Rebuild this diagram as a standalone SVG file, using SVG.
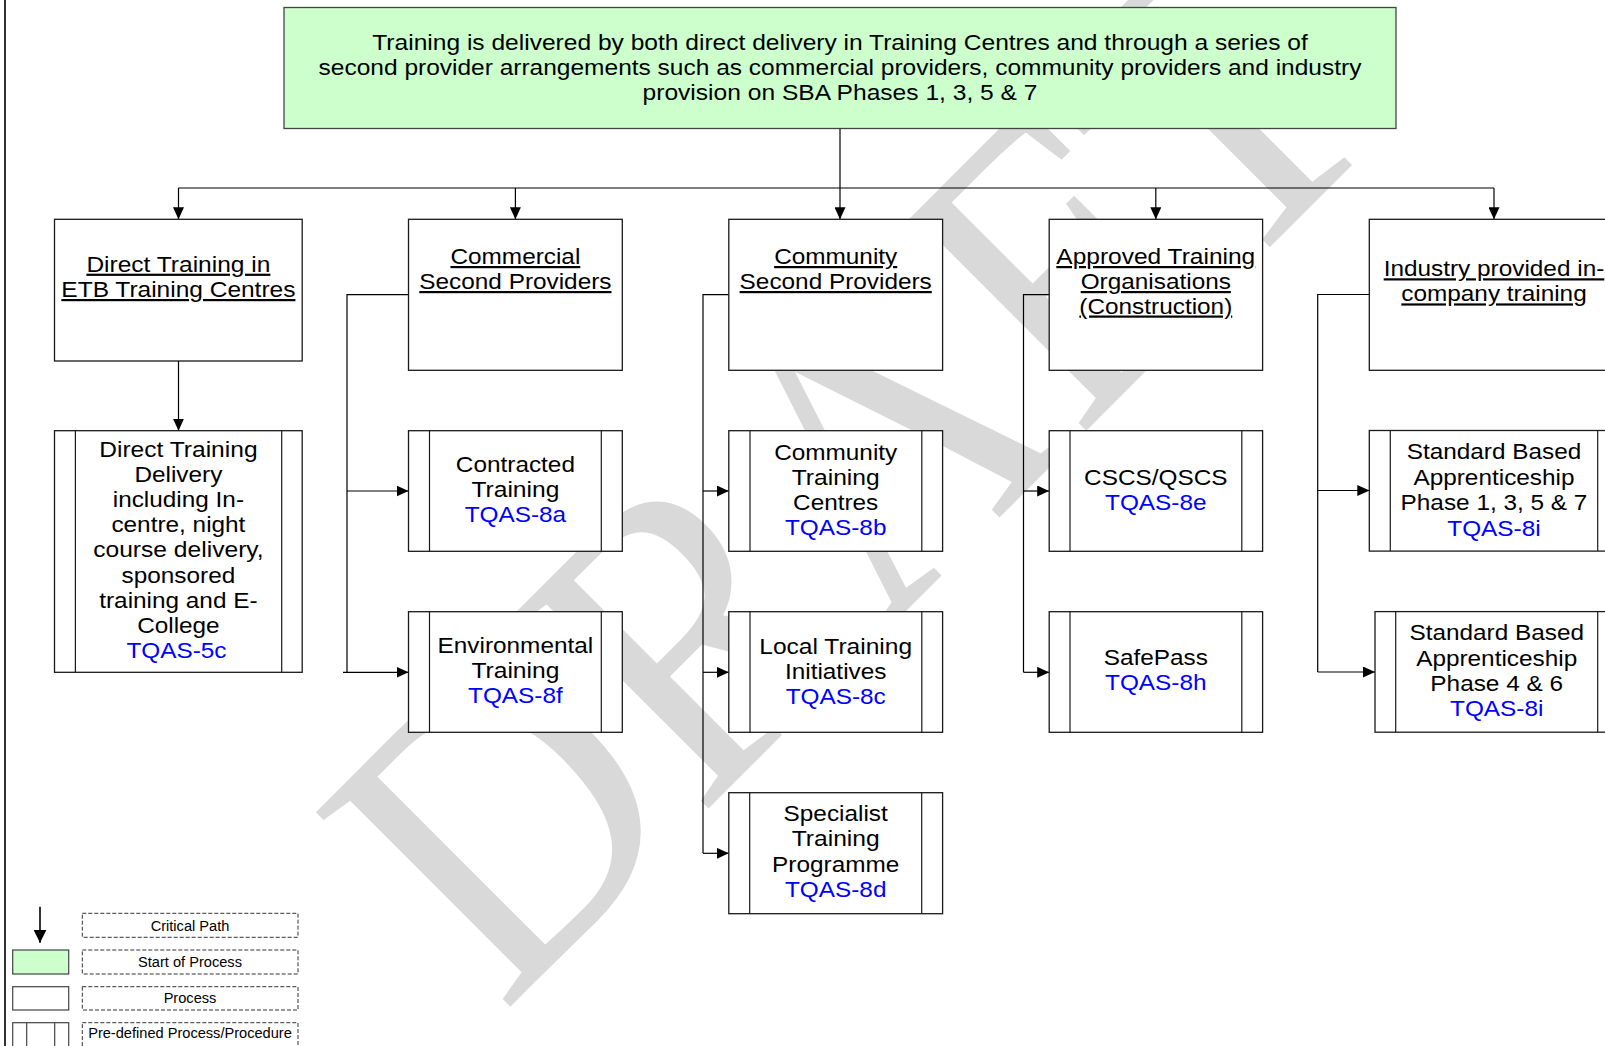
<svg xmlns="http://www.w3.org/2000/svg" width="1605" height="1046" viewBox="0 0 1605 1046">
<style>
.t{font-family:"Liberation Sans",Arial,sans-serif;font-size:22px;text-anchor:middle;fill:#000}
.u{text-decoration:underline}
.bl{fill:#0000ff}
.box{fill:#fff;stroke:#1a1a1a;stroke-width:1.3}
.in{stroke:#1a1a1a;stroke-width:1.2}
.c{fill:none;stroke:#000;stroke-width:1.2}
.lg{font-size:14px}
.dash{fill:none;stroke:#333;stroke-width:1;stroke-dasharray:4 2}
.wm{font-family:"Liberation Serif","Times New Roman",serif;font-size:420px;fill:#d9d9d9}
</style>
<defs>
<marker id="ah" markerWidth="12" markerHeight="11" refX="12" refY="5.5" orient="auto" markerUnits="userSpaceOnUse"><path d="M0,0L12,5.5L0,11z" fill="#000"/></marker>
<marker id="ahL" markerWidth="13" markerHeight="13" refX="13" refY="6.5" orient="auto" markerUnits="userSpaceOnUse"><path d="M0,0L13,6.5L0,13z" fill="#000"/></marker>
</defs>
<rect width="1605" height="1046" fill="#fff"/>
<g id="watermark"><text class="wm" transform="translate(502.5,1014.5) rotate(-45)" x="0" y="0" textLength="1261" lengthAdjust="spacingAndGlyphs">DRAFT</text></g>
<line x1="5" y1="0" x2="5" y2="1046" stroke="#333" stroke-width="2"/>
<g id="connectors" class="c">
<path d="M840,128V188"/>
<path d="M178.5,188H1494"/>
<path d="M178.5,188V219.3" marker-end="url(#ah)"/>
<path d="M515.4,188V219.3" marker-end="url(#ah)"/>
<path d="M840,188V219.3" marker-end="url(#ah)"/>
<path d="M1155.8,188V219.3" marker-end="url(#ah)"/>
<path d="M1494,188V219.3" marker-end="url(#ah)"/>
<path d="M178.5,361V430.7" marker-end="url(#ah)"/>
<path d="M408.5,294.7H347V672.3"/>
<path d="M347,491H408.5" marker-end="url(#ah)"/>
<path d="M343,672.3H408.5" marker-end="url(#ah)"/>
<path d="M728.8,294.7H703V853.3"/>
<path d="M703,491H728.8" marker-end="url(#ah)"/>
<path d="M703,672.3H728.8" marker-end="url(#ah)"/>
<path d="M703,853.3H728.8" marker-end="url(#ah)"/>
<path d="M1049.2,294.7H1023.5V672.3"/>
<path d="M1023.5,491H1049.2" marker-end="url(#ah)"/>
<path d="M1023.5,672.3H1049.2" marker-end="url(#ah)"/>
<path d="M1369.3,294.5H1317.7V672"/>
<path d="M1317.7,490.5H1369.3" marker-end="url(#ah)"/>
<path d="M1317.7,672H1375" marker-end="url(#ah)"/>
</g>
<g id="start">
<rect x="284" y="7.5" width="1112" height="121" fill="#ccffcc" stroke="#444" stroke-width="1.3"/>
<text class="t" x="840" y="50" textLength="935.5" lengthAdjust="spacingAndGlyphs">Training is delivered by both direct delivery in Training Centres and through a series of</text>
<text class="t" x="840" y="75.2" textLength="1042.8" lengthAdjust="spacingAndGlyphs">second provider arrangements such as commercial providers, community providers and industry</text>
<text class="t" x="840" y="100.4" textLength="394.9" lengthAdjust="spacingAndGlyphs">provision on SBA Phases 1, 3, 5 &amp; 7</text>
</g>
<g id="direct-etb">
<rect class="box" x="54.5" y="219.3" width="247.7" height="141.7"/>
<text class="t u" x="178.4" y="271.7" textLength="184" lengthAdjust="spacingAndGlyphs">Direct Training in</text>
<text class="t u" x="178.4" y="297" textLength="234.1" lengthAdjust="spacingAndGlyphs">ETB Training Centres</text>
</g>
<g id="commercial">
<rect class="box" x="408.5" y="219.3" width="213.8" height="151"/>
<text class="t u" x="515.4" y="264" textLength="129.9" lengthAdjust="spacingAndGlyphs">Commercial</text>
<text class="t u" x="515.4" y="289" textLength="192.2" lengthAdjust="spacingAndGlyphs">Second Providers</text>
</g>
<g id="community">
<rect class="box" x="728.8" y="219.3" width="213.8" height="151"/>
<text class="t u" x="835.7" y="264" textLength="123.1" lengthAdjust="spacingAndGlyphs">Community</text>
<text class="t u" x="835.7" y="289" textLength="192.2" lengthAdjust="spacingAndGlyphs">Second Providers</text>
</g>
<g id="approved">
<rect class="box" x="1049.2" y="219.3" width="213.4" height="151"/>
<text class="t u" x="1155.8" y="264" textLength="198.9" lengthAdjust="spacingAndGlyphs">Approved Training</text>
<text class="t u" x="1155.8" y="289" textLength="150.2" lengthAdjust="spacingAndGlyphs">Organisations</text>
<text class="t u" x="1155.8" y="313.5" textLength="152.9" lengthAdjust="spacingAndGlyphs">(Construction)</text>
</g>
<g id="industry">
<rect class="box" x="1369.3" y="219.3" width="249" height="151"/>
<text class="t u" x="1494" y="276.3" textLength="220.6" lengthAdjust="spacingAndGlyphs">Industry provided in-</text>
<text class="t u" x="1494" y="301.4" textLength="185.4" lengthAdjust="spacingAndGlyphs">company training</text>
</g>
<g id="direct-delivery">
<rect class="box" x="54.5" y="430.7" width="247.7" height="241.6"/>
<line class="in" x1="75.4" y1="430.7" x2="75.4" y2="672.3"/><line class="in" x1="281.7" y1="430.7" x2="281.7" y2="672.3"/>
<text class="t" x="178.4" y="456.5" textLength="158.3" lengthAdjust="spacingAndGlyphs">Direct Training</text>
<text class="t" x="178.4" y="481.7" textLength="87.9" lengthAdjust="spacingAndGlyphs">Delivery</text>
<text class="t" x="178.4" y="506.9" textLength="131.3" lengthAdjust="spacingAndGlyphs">including In-</text>
<text class="t" x="178.4" y="532.1" textLength="134" lengthAdjust="spacingAndGlyphs">centre, night</text>
<text class="t" x="178.4" y="557.3" textLength="170.5" lengthAdjust="spacingAndGlyphs">course delivery,</text>
<text class="t" x="178.4" y="582.5" textLength="113.7" lengthAdjust="spacingAndGlyphs">sponsored</text>
<text class="t" x="178.4" y="607.7" textLength="158.3" lengthAdjust="spacingAndGlyphs">training and E-</text>
<text class="t" x="178.4" y="632.9" textLength="82.5" lengthAdjust="spacingAndGlyphs">College</text>
<text class="t bl" x="176.5" y="658.1" textLength="100.1" lengthAdjust="spacingAndGlyphs">TQAS-5c</text>
</g>
<g id="contracted">
<rect class="box" x="408.5" y="430.7" width="213.8" height="120.6"/>
<line class="in" x1="429.5" y1="430.7" x2="429.5" y2="551.3"/><line class="in" x1="601.3" y1="430.7" x2="601.3" y2="551.3"/>
<text class="t" x="515.4" y="472" textLength="119.1" lengthAdjust="spacingAndGlyphs">Contracted</text>
<text class="t" x="515.4" y="497" textLength="88" lengthAdjust="spacingAndGlyphs">Training</text>
<text class="t bl" x="515.4" y="522" textLength="101.5" lengthAdjust="spacingAndGlyphs">TQAS-8a</text>
</g>
<g id="environmental">
<rect class="box" x="408.5" y="611.7" width="213.8" height="120.6"/>
<line class="in" x1="429.5" y1="611.7" x2="429.5" y2="732.3"/><line class="in" x1="601.3" y1="611.7" x2="601.3" y2="732.3"/>
<text class="t" x="515.4" y="653" textLength="155.6" lengthAdjust="spacingAndGlyphs">Environmental</text>
<text class="t" x="515.4" y="678" textLength="88" lengthAdjust="spacingAndGlyphs">Training</text>
<text class="t bl" x="515.4" y="703" textLength="94.7" lengthAdjust="spacingAndGlyphs">TQAS-8f</text>
</g>
<g id="community-centres">
<rect class="box" x="728.8" y="430.7" width="213.8" height="120.6"/>
<line class="in" x1="750" y1="430.7" x2="750" y2="551.3"/><line class="in" x1="921.8" y1="430.7" x2="921.8" y2="551.3"/>
<text class="t" x="835.7" y="459.5" textLength="123.1" lengthAdjust="spacingAndGlyphs">Community</text>
<text class="t" x="835.7" y="484.8" textLength="88" lengthAdjust="spacingAndGlyphs">Training</text>
<text class="t" x="835.7" y="510.1" textLength="85.2" lengthAdjust="spacingAndGlyphs">Centres</text>
<text class="t bl" x="835.7" y="535.4" textLength="101.5" lengthAdjust="spacingAndGlyphs">TQAS-8b</text>
</g>
<g id="local">
<rect class="box" x="728.8" y="611.7" width="213.8" height="120.6"/>
<line class="in" x1="750" y1="611.7" x2="750" y2="732.3"/><line class="in" x1="921.8" y1="611.7" x2="921.8" y2="732.3"/>
<text class="t" x="835.7" y="653.5" textLength="152.9" lengthAdjust="spacingAndGlyphs">Local Training</text>
<text class="t" x="835.7" y="678.5" textLength="101.5" lengthAdjust="spacingAndGlyphs">Initiatives</text>
<text class="t bl" x="835.7" y="703.5" textLength="100.1" lengthAdjust="spacingAndGlyphs">TQAS-8c</text>
</g>
<g id="specialist">
<rect class="box" x="728.8" y="792.7" width="213.8" height="121"/>
<line class="in" x1="749.7" y1="792.7" x2="749.7" y2="913.7"/><line class="in" x1="921.7" y1="792.7" x2="921.7" y2="913.7"/>
<text class="t" x="835.7" y="820.7" textLength="104.2" lengthAdjust="spacingAndGlyphs">Specialist</text>
<text class="t" x="835.7" y="846.2" textLength="88" lengthAdjust="spacingAndGlyphs">Training</text>
<text class="t" x="835.7" y="871.7" textLength="127.2" lengthAdjust="spacingAndGlyphs">Programme</text>
<text class="t bl" x="835.7" y="897.2" textLength="101.5" lengthAdjust="spacingAndGlyphs">TQAS-8d</text>
</g>
<g id="cscs">
<rect class="box" x="1049.2" y="430.7" width="213.4" height="120.6"/>
<line class="in" x1="1070" y1="430.7" x2="1070" y2="551.3"/><line class="in" x1="1241.8" y1="430.7" x2="1241.8" y2="551.3"/>
<text class="t" x="1155.8" y="484.7" textLength="143.4" lengthAdjust="spacingAndGlyphs">CSCS/QSCS</text>
<text class="t bl" x="1155.8" y="509.7" textLength="101.5" lengthAdjust="spacingAndGlyphs">TQAS-8e</text>
</g>
<g id="safepass">
<rect class="box" x="1049.2" y="611.7" width="213.4" height="120.6"/>
<line class="in" x1="1070" y1="611.7" x2="1070" y2="732.3"/><line class="in" x1="1241.8" y1="611.7" x2="1241.8" y2="732.3"/>
<text class="t" x="1155.8" y="665.3" textLength="104.2" lengthAdjust="spacingAndGlyphs">SafePass</text>
<text class="t bl" x="1155.8" y="690.3" textLength="101.5" lengthAdjust="spacingAndGlyphs">TQAS-8h</text>
</g>
<g id="sba-1357">
<rect class="box" x="1369.3" y="430.5" width="249" height="120.6"/>
<line class="in" x1="1390.3" y1="430.5" x2="1390.3" y2="551.1"/><line class="in" x1="1597.7" y1="430.5" x2="1597.7" y2="551.1"/>
<text class="t" x="1494" y="459" textLength="174.6" lengthAdjust="spacingAndGlyphs">Standard Based</text>
<text class="t" x="1494" y="484.7" textLength="161.1" lengthAdjust="spacingAndGlyphs">Apprenticeship</text>
<text class="t" x="1494" y="509.6" textLength="186.8" lengthAdjust="spacingAndGlyphs">Phase 1, 3, 5 &amp; 7</text>
<text class="t bl" x="1494" y="535.6" textLength="93.4" lengthAdjust="spacingAndGlyphs">TQAS-8i</text>
</g>
<g id="sba-46">
<rect class="box" x="1375" y="611.6" width="243" height="120.6"/>
<line class="in" x1="1395.7" y1="611.6" x2="1395.7" y2="732.2"/><line class="in" x1="1597.7" y1="611.6" x2="1597.7" y2="732.2"/>
<text class="t" x="1496.7" y="640" textLength="174.6" lengthAdjust="spacingAndGlyphs">Standard Based</text>
<text class="t" x="1496.7" y="665.6" textLength="161.1" lengthAdjust="spacingAndGlyphs">Apprenticeship</text>
<text class="t" x="1496.7" y="690.6" textLength="132.7" lengthAdjust="spacingAndGlyphs">Phase 4 &amp; 6</text>
<text class="t bl" x="1496.7" y="716.2" textLength="93.4" lengthAdjust="spacingAndGlyphs">TQAS-8i</text>
</g>
<g id="legend">
<line x1="40" y1="906.7" x2="40" y2="942.7" stroke="#000" stroke-width="1.6" marker-end="url(#ahL)"/>
<rect x="12.7" y="950" width="56" height="24" fill="#ccffcc" stroke="#444" stroke-width="1.2"/>
<rect x="12.7" y="986.7" width="56" height="23.3" fill="#fff" stroke="#444" stroke-width="1.2"/>
<rect x="12.7" y="1022.7" width="56" height="30" fill="#fff" stroke="#444" stroke-width="1.2"/>
<line x1="26.7" y1="1022.7" x2="26.7" y2="1046" stroke="#444" stroke-width="1.2"/>
<line x1="54.7" y1="1022.7" x2="54.7" y2="1046" stroke="#444" stroke-width="1.2"/>
<rect class="dash" x="82.3" y="913.3" width="215.7" height="24"/>
<rect class="dash" x="82.3" y="950" width="215.7" height="24"/>
<rect class="dash" x="82.3" y="986.7" width="215.7" height="23.3"/>
<rect class="dash" x="82.3" y="1022.7" width="215.7" height="30"/>
<text class="t lg" x="190" y="930.6" textLength="78.7" lengthAdjust="spacingAndGlyphs">Critical Path</text>
<text class="t lg" x="190" y="966.7" textLength="103.9" lengthAdjust="spacingAndGlyphs">Start of Process</text>
<text class="t lg" x="190" y="1002.7" textLength="52.7" lengthAdjust="spacingAndGlyphs">Process</text>
<text class="t lg" x="190" y="1038.3" textLength="203.7" lengthAdjust="spacingAndGlyphs">Pre-defined Process/Procedure</text>
</g>
</svg>
